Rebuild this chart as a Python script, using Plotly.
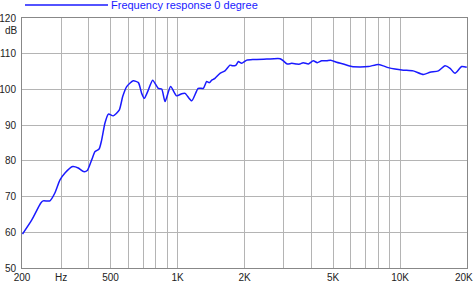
import plotly.graph_objects as go

freq = [201, 221, 243, 249, 267, 281, 296, 312, 338, 358, 378, 393, 411, 426, 444, 456,
        472, 489, 514, 547, 567, 591, 632, 667, 690, 709, 739, 773, 820, 849, 879, 931,
        991, 1045, 1081, 1158, 1239, 1306, 1352, 1390, 1425, 1473, 1552, 1634, 1722, 1770,
        1833, 1876, 1941, 2047, 2193, 2518, 2891, 2988, 3114, 3259, 3435, 3549, 3673, 3873,
        4073, 4247, 4446, 4678, 4877, 5187, 5559, 6066, 6610, 7200, 7985, 8415, 8853, 9490,
        10350, 11460, 12730, 13640, 14870, 15930, 16790, 17670, 18940, 19950]
db = [59.5, 63.4, 68.2, 68.8, 68.8, 71.0, 74.6, 76.6, 78.4, 78.0, 77.0, 77.3, 80.2, 82.6, 83.3, 85.8,
      90.6, 93.1, 92.6, 94.2, 98.0, 100.8, 102.4, 101.9, 98.9, 97.5, 99.8, 102.6, 100.3, 100.1, 96.6, 100.8,
      98.2, 98.8, 98.9, 96.8, 100.3, 100.3, 102.2, 101.9, 102.6, 103.1, 104.5, 105.2, 106.8, 106.6,
      106.8, 107.8, 107.3, 108.2, 108.4, 108.5, 108.6, 108.0, 107.1, 107.3, 107.1, 107.1, 107.5, 107.1,
      108.0, 107.5, 108.0, 108.0, 108.2, 107.6, 107.1, 106.4, 106.3, 106.4, 107.0, 106.6, 106.1, 105.7,
      105.4, 105.2, 104.2, 104.8, 105.2, 106.6, 105.9, 104.5, 106.4, 106.2]

grid_freqs = [200, 300, 400, 500, 600, 700, 800, 900, 1000, 2000, 3000, 4000, 5000, 6000,
              7000, 8000, 9000, 10000, 20000]
label_map = {200: "200", 300: "Hz", 500: "500", 1000: "1K", 2000: "2K", 5000: "5K",
             10000: "10K"}
last_label = "20K"
x_ticktext = [label_map.get(f, "") for f in grid_freqs]
y_ticks = [50, 60, 70, 80, 90, 100, 110, 120]
legend_name = "Frequency response 0 degree"

fig = go.Figure()
fig.add_trace(go.Scatter(x=freq, y=db, mode="lines", name=legend_name,
                         line=dict(color="#1a1aff", width=1.5, shape="spline", smoothing=0.6),
                         showlegend=False, cliponaxis=False))

font = dict(family="Liberation Sans, Arial, sans-serif", size=10, color="#222")
fig.update_layout(
    width=475, height=282,
    margin=dict(l=22, r=8, t=18, b=14, autoexpand=False),
    paper_bgcolor="white", plot_bgcolor="white",
    font=font,
    xaxis=dict(type="log", range=[2.30103, 4.30103], tickvals=grid_freqs, ticktext=x_ticktext,
               showgrid=True, gridcolor="#b4b4b4", gridwidth=1, ticks="", ticklen=0,
               showline=True, linecolor="#888", linewidth=1, mirror=True, zeroline=False,
               tickfont=font, ticklabelstandoff=0, automargin=False),
    yaxis=dict(range=[50, 120], tickvals=y_ticks, showgrid=True, gridcolor="#b4b4b4", gridwidth=1,
               ticks="", showline=True, linecolor="#888", linewidth=1, mirror=True, zeroline=False,
               tickfont=font, ticklabelstandoff=3, automargin=False),
)
fig.add_annotation(x=0, xref="paper", y=116.6, yref="y", text="dB", showarrow=False,
                   xanchor="right", xshift=-2, font=font)
fig.add_annotation(x=1, xref="paper", y=0, yref="paper", text=last_label, showarrow=False,
                   xanchor="right", yanchor="top", xshift=8, yshift=-2, font=font)
fig.add_shape(type="line", xref="paper", yref="paper", x0=3/445, x1=86/445,
              y0=1 + 13/250, y1=1 + 13/250, line=dict(color="#1a1aff", width=1.5))
fig.add_annotation(x=87/445, xref="paper", y=1 + 13/250, yref="paper", text=legend_name,
                   showarrow=False, xanchor="left", yanchor="middle",
                   font=dict(family="Liberation Sans, Arial, sans-serif", size=11, color="#1a1aff"))
fig.write_html("out.html")
